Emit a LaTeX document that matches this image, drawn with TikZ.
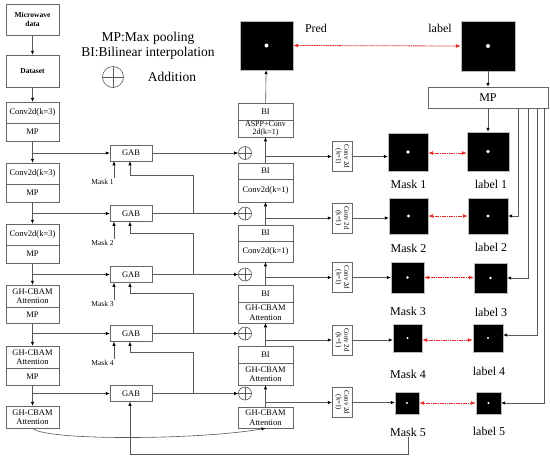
\documentclass[tikz,border=0pt]{standalone}
\usepackage{fontspec}
\usepackage{graphicx}
\setmainfont{Liberation Serif}
\usetikzlibrary{arrows.meta,calc}
\newcommand\fsz[2]{\fontsize{#1pt}{#2pt}\selectfont}
\definecolor{redarr}{RGB}{230,45,40}
\begin{document}
\begin{tikzpicture}[x=1pt,y=-1pt,
  ln/.style={draw=gray!70!black, line width=0.6pt},
  arr/.style={ln, -{Latex[length=4pt,width=3.4pt,color=black]}},
  rd/.style={draw=redarr, line width=0.8pt, dash pattern=on 1.6pt off 0.7pt,
     {Latex[length=5pt,width=4pt,color=redarr]}-{Latex[length=5pt,width=4pt,color=redarr]}},
  bx/.style={draw=gray!80!black, line width=0.5pt, inner sep=0pt, align=center, font=\fsz{8.5}{9.5}, minimum width=53pt},
  bxd/.style={bx, minimum width=55pt},
  two/.style={font=\fsz{8}{8.6}},
  gab/.style={bx, minimum width=42pt, minimum height=16pt},
  cv/.style={draw=gray!80!black, line width=0.5pt, inner sep=0pt, minimum width=20pt, minimum height=30pt, font=\fsz{7}{7.6}},
  plus/.style={circle, draw=gray!70!black, line width=0.6pt, inner sep=0pt, minimum size=#1,
     path picture={\draw[gray!70!black, line width=0.6pt] (path picture bounding box.north) -- (path picture bounding box.south) (path picture bounding box.west) -- (path picture bounding box.east);}},
  plus/.default=13pt,
  img/.style={fill=black, draw=gray!55, line width=0.4pt, inner sep=0pt,
     path picture={\fill[white] (path picture bounding box.center) circle (#1);}},
  img/.default=1.5pt,
  lbl/.style={inner sep=0pt, font=\fsz{12}{13}},
  sm/.style={inner sep=0pt, font=\fsz{7.5}{8.5}},
  leg/.style={inner sep=0pt, font=\fsz{13.5}{15}}
]
\useasboundingbox (0,0) rectangle (550,459);
\fill[white] (0,0) rectangle (550,459);

% ---------- legend ----------
\node[leg] (lg1) at (148,38) {MP:Max pooling};
\node[leg] (lg2) at (148,53) {BI:Bilinear interpolation};
\node[plus=21pt] (lgp) at (113,77) {};
\node[leg] (lg3) at (172,77) {Addition};

% ---------- encoder ----------
\node[bx, font=\bfseries\fsz{7.5}{9}, minimum height=31pt] (md) at (32.5,19.5) {Microwave\\data};
\node[bx, font=\bfseries\fsz{7.5}{9}, minimum height=32pt] (ds) at (32.5,71) {Dataset};
\node[bx, minimum height=21pt] (e1a) at (32.5,112.5) {Conv2d(k=3)};
\node[bx, minimum height=18pt] (e1b) at (32.5,132) {MP};
\node[bx, minimum height=21pt] (e2a) at (32.5,173.5) {Conv2d(k=3)};
\node[bx, minimum height=18pt] (e2b) at (32.5,193) {MP};
\node[bx, minimum height=21pt] (e3a) at (32.5,234.5) {Conv2d(k=3)};
\node[bx, minimum height=18pt] (e3b) at (32.5,254) {MP};
\node[bx, minimum height=22pt] (e4a) at (32.5,296) {GH-CBAM\\Attention};
\node[bx, minimum height=16pt] (e4b) at (32.5,315) {MP};
\node[bx, minimum height=22pt] (e5a) at (32.5,357) {GH-CBAM\\Attention};
\node[bx, minimum height=17pt] (e5b) at (32.5,376.5) {MP};
\node[bx, minimum height=22pt] (e6) at (32.5,417) {GH-CBAM\\Attention};

\draw[arr] (md) -- (ds);
\draw[arr] (ds) -- (e1a);
\draw[arr] (e1b) -- (e2a);
\draw[arr] (e2b) -- (e3a);
\draw[arr] (e3b) -- (e4a);
\draw[arr] (e4b) -- (e5a);
\draw[arr] (e5b) -- (e6);

% ---------- GAB ----------
\node[gab] (g1) at (131,153) {GAB};
\node[gab] (g2) at (131,213.5) {GAB};
\node[gab] (g3) at (131,274.5) {GAB};
\node[gab] (g4) at (131,333.5) {GAB};
\node[gab] (g5) at (131,393.5) {GAB};

\draw[arr] (e1b.south |- g1.west) -- (g1.west);
\draw[arr] (e2b.south |- g2.west) -- (g2.west);
\draw[arr] (e3b.south |- g3.west) -- (g3.west);
\draw[arr] (e4b.south |- g4.west) -- (g4.west);
\draw[arr] (e5b.south |- g5.west) -- (g5.west);

% mask labels
\node[sm] (mt1) at (102.5,182) {Mask 1};
\node[sm] (mt2) at (102.5,243) {Mask 2};
\node[sm] (mt3) at (102.5,304) {Mask 3};
\node[sm] (mt4) at (102.5,363) {Mask 4};
\draw[arr] ([xshift=11.5pt,yshift=1pt]mt1.north) -- ([xshift=11.5pt]mt1.north |- g1.south);
\draw[arr] ([xshift=11.5pt,yshift=1pt]mt2.north) -- ([xshift=11.5pt]mt2.north |- g2.south);
\draw[arr] ([xshift=11.5pt,yshift=1pt]mt3.north) -- ([xshift=11.5pt]mt3.north |- g3.south);
\draw[arr] ([xshift=11.5pt,yshift=1pt]mt4.north) -- ([xshift=11.5pt]mt4.north |- g4.south);

% ---------- plus ----------
\node[plus] (p1) at (245,153) {};
\node[plus] (p2) at (245,213.5) {};
\node[plus] (p3) at (245,274.5) {};
\node[plus] (p4) at (245,333.5) {};
\node[plus] (p5) at (245,393.5) {};
\draw[arr] (g1) -- (p1);
\draw[arr] (g2) -- (p2);
\draw[arr] (g3) -- (p3);
\draw[arr] (g4) -- (p4);
\draw[arr] (g5) -- (p5);

% feedback lines
\coordinate (t1) at (193,175);
\coordinate (t2) at (193,233);
\coordinate (t3) at (193,293);
\coordinate (t4) at (193,352);
\draw[arr] (t1 |- g2.east) -- (t1) -| ([xshift=-1pt]g1.south);
\draw[arr] (t2 |- g3.east) -- (t2) -| ([xshift=-1pt]g2.south);
\draw[arr] (t3 |- g4.east) -- (t3) -| ([xshift=-1pt]g3.south);
\draw[arr] (t4 |- g5.east) -- (t4) -| ([xshift=-1pt]g4.south);

% ---------- decoder ----------
\node[bxd, minimum height=17pt] (d1a) at (265.5,111.5) {BI};
\node[bxd, two, minimum height=17pt] (d1b) at (265.5,128.5) {ASPP+Conv\\2d(k=1)};
\node[bxd, minimum height=16pt] (d2a) at (265.5,171) {BI};
\node[bxd, minimum height=23pt] (d2b) at (265.5,190.5) {Conv2d(k=1)};
\node[bxd, minimum height=16pt] (d3a) at (265.5,233) {BI};
\node[bxd, minimum height=21pt] (d3b) at (265.5,251.5) {Conv2d(k=1)};
\node[bxd, minimum height=17pt] (d4a) at (265.5,293.5) {BI};
\node[bxd, minimum height=21pt] (d4b) at (265.5,312.5) {GH-CBAM\\Attention};
\node[bxd, minimum height=17pt] (d5a) at (265.5,354.5) {BI};
\node[bxd, minimum height=22pt] (d5b) at (265.5,374) {GH-CBAM\\Attention};
\node[bxd, minimum height=21pt] (d6) at (265.5,417.5) {GH-CBAM\\Attention};

\draw[arr] (d2a) -- (d1b);
\draw[arr] (d3a) -- (d2b);
\draw[arr] (d4a) -- (d3b);
\draw[arr] (d5a) -- (d4b);
\draw[arr] (d6) -- (d5b);

\draw[arr] (e6.south) .. controls (45,441) and (200,440) .. (d6.south);

% ---------- conv 2d boxes ----------
\node[cv] (c1) at (342,156.5) {\rotatebox{-90}{\begin{tabular}{@{}c@{}}Conv 2d\\(k=1)\end{tabular}}};
\node[cv] (c2) at (342,218) {\rotatebox{-90}{\begin{tabular}{@{}c@{}}Conv 2d\\(k=1)\end{tabular}}};
\node[cv] (c3) at (342,277.5) {\rotatebox{-90}{\begin{tabular}{@{}c@{}}Conv 2d\\(k=1)\end{tabular}}};
\node[cv] (c4) at (342,340) {\rotatebox{-90}{\begin{tabular}{@{}c@{}}Conv 2d\\(k=1)\end{tabular}}};
\node[cv] (c5) at (342,402.5) {\rotatebox{-90}{\begin{tabular}{@{}c@{}}Conv 2d\\(k=1)\end{tabular}}};

\draw[arr] (d1b.south |- c1.west) -- (c1.west);
\draw[arr] (d2b.south |- c2.west) -- (c2.west);
\draw[arr] (d3b.south |- c3.west) -- (c3.west);
\draw[arr] (d4b.south |- c4.west) -- (c4.west);
\draw[arr] (d5b.south |- c5.west) -- (c5.west);

% ---------- images ----------
\node[img=2pt, minimum width=53pt, minimum height=49pt] (pred) at (266.5,45.5) {};
\node[img=2pt, minimum width=54pt, minimum height=50pt] (lab) at (488,46) {};
\node[lbl] (tp) at (316,28) {Pred};
\node[lbl] (tl) at (440,28) {label};
\draw[rd] (pred.east) -- (lab.west);
\draw[arr] (d1a) -- (pred);

\node[bx, font=\fsz{12}{13}, minimum width=120pt, minimum height=21pt] (mp) at (488,97.5) {MP};
\draw[arr] (lab) -- (mp);

\node[img=1.8pt, minimum width=40pt, minimum height=38pt] (mk1) at (408,152) {};
\node[img=1.8pt, minimum width=42pt, minimum height=39pt] (lb1) at (488,151.5) {};
\node[img=1.7pt, minimum width=39pt, minimum height=36pt] (mk2) at (408.5,216) {};
\node[img=1.7pt, minimum width=40pt, minimum height=36pt] (lb2) at (488,216) {};
\node[img=1.4pt, minimum width=33pt, minimum height=31pt] (mk3) at (407.5,277.5) {};
\node[img=1.4pt, minimum width=33pt, minimum height=30pt] (lb3) at (490.5,278) {};
\node[img=1.2pt, minimum width=29pt, minimum height=28pt] (mk4) at (407.5,338) {};
\node[img=1.2pt, minimum width=30pt, minimum height=28pt] (lb4) at (488,338) {};
\node[img=1.1pt, minimum width=24pt, minimum height=22pt] (mk5) at (407,403) {};
\node[img=1.1pt, minimum width=25pt, minimum height=22pt] (lb5) at (488.5,403) {};

\draw[arr] (mp) -- (lb1);
\draw[arr] ([xshift=30pt]mp.south) |- (lb2.east);
\draw[arr] ([xshift=40pt]mp.south) |- (lb3.east);
\draw[arr] ([xshift=49pt]mp.south) |- ([yshift=3pt]lb4.east);
\draw[arr] ([xshift=56pt]mp.south) |- (lb5.east);

\draw[arr] (c1.east) -- (c1.east -| mk1.west);
\draw[arr] (c2.east) -- (c2.east -| mk2.west);
\draw[arr] (c3.east) -- (c3.east -| mk3.west);
\draw[arr] (c4.east) -- (c4.east -| mk4.west);
\draw[arr] (c5.east) -- (c5.east -| mk5.west);

\draw[rd] ([yshift=-1pt]mk1.east) -- ([yshift=-1pt]mk1.east -| lb1.west);
\draw[rd] (mk2.east) -- (mk2.east -| lb2.west);
\draw[rd] (mk3.east) -- (mk3.east -| lb3.west);
\draw[rd] ([yshift=-2pt]mk4.east) -- ([yshift=-2pt]mk4.east -| lb4.west);
\draw[rd] (mk5.east) -- (mk5.east -| lb5.west);

\node[lbl] (tm1) at (408.5,184) {Mask 1};
\node[lbl] (tl1) at (491,184) {label 1};
\node[lbl] (tm2) at (408.5,248) {Mask 2};
\node[lbl] (tl2) at (491,247) {label 2};
\node[lbl] (tm3) at (408,311) {Mask 3};
\node[lbl] (tl3) at (491,312) {label 3};
\node[lbl] (tm4) at (408,374) {Mask 4};
\node[lbl] (tl4) at (489,371) {label 4};
\node[lbl] (tm5) at (408,432) {Mask 5};
\node[lbl] (tl5) at (489,431) {label 5};

\coordinate (bot) at (0,453);
\draw[arr] ([yshift=-1pt]tm5.south) -- ([yshift=-1pt]tm5.south |- bot) -| ([xshift=-1pt]g5.south);
\end{tikzpicture}
\end{document}
